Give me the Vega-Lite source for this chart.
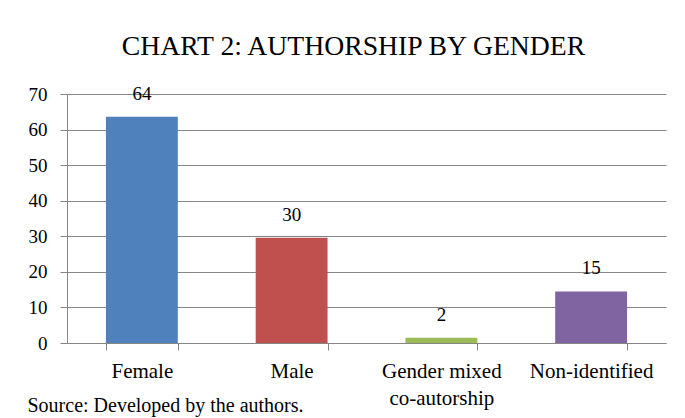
{
  "$schema": "https://vega.github.io/schema/vega-lite/v6.json",
  "width": 599,
  "height": 249,
  "autosize": {"type": "none"},
  "padding": {"left": 67, "top": 94, "right": 19, "bottom": 75},
  "background": "white",
  "title": {
    "text": "CHART 2: AUTHORSHIP BY GENDER",
    "font": "Liberation Serif",
    "fontSize": 27.7,
    "fontWeight": "normal",
    "color": "black",
    "anchor": "middle",
    "frame": "group",
    "baseline": "alphabetic",
    "offset": 38,
    "dx": -13,
    "dy": 36
  },
  "data": {
    "values": [
      {"category": "Female", "value": 63.6, "label": "64"},
      {"category": "Male", "value": 29.6, "label": "30"},
      {"category": "Gender mixed co-autorship", "value": 1.5, "label": "2"},
      {"category": "Non-identified", "value": 14.5, "label": "15"}
    ]
  },
  "encoding": {
    "x": {
      "field": "category",
      "type": "nominal",
      "sort": null,
      "scale": {"paddingInner": 0.52, "paddingOuter": 0.26},
      "axis": {
        "title": "Source: Developed by the authors.",
        "titleFont": "Liberation Serif",
        "titleFontSize": 20,
        "titleFontWeight": "normal",
        "titleColor": "black",
        "titleX": -40,
        "titleY": 68,
        "titleAlign": "left",
        "titleAnchor": "start",
        "titleBaseline": "alphabetic",
        "labelAngle": 0,
        "labelFont": "Liberation Serif",
        "labelFontSize": 21,
        "labelColor": "black",
        "labelBaseline": "alphabetic",
        "labelPadding": 27,
        "labelLineHeight": 27,
        "labelExpr": "datum.label == 'Gender mixed co-autorship' ? ['Gender mixed', 'co-autorship'] : datum.label",
        "tickBand": "extent",
        "tickSize": 7,
        "tickColor": "#868686",
        "domainColor": "#868686",
        "grid": false
      }
    },
    "y": {
      "field": "value",
      "type": "quantitative",
      "scale": {"domain": [0, 70], "nice": false},
      "axis": {
        "title": null,
        "values": [0, 10, 20, 30, 40, 50, 60, 70],
        "labelFont": "Liberation Serif",
        "labelFontSize": 19,
        "labelColor": "black",
        "labelPadding": 13,
        "tickSize": 7,
        "tickColor": "#868686",
        "domainColor": "#868686",
        "gridColor": "#868686",
        "grid": true
      }
    }
  },
  "layer": [
    {
      "mark": {"type": "bar"},
      "encoding": {
        "color": {
          "field": "category",
          "type": "nominal",
          "sort": null,
          "scale": {"range": ["#4F81BD", "#C0504D", "#9BBB59", "#8064A2"]},
          "legend": null
        }
      }
    },
    {
      "mark": {"type": "text", "font": "Liberation Serif", "fontSize": 19, "color": "black", "baseline": "alphabetic", "dy": -17},
      "encoding": {"text": {"field": "label"}}
    }
  ],
  "config": {"view": {"stroke": null}}
}
